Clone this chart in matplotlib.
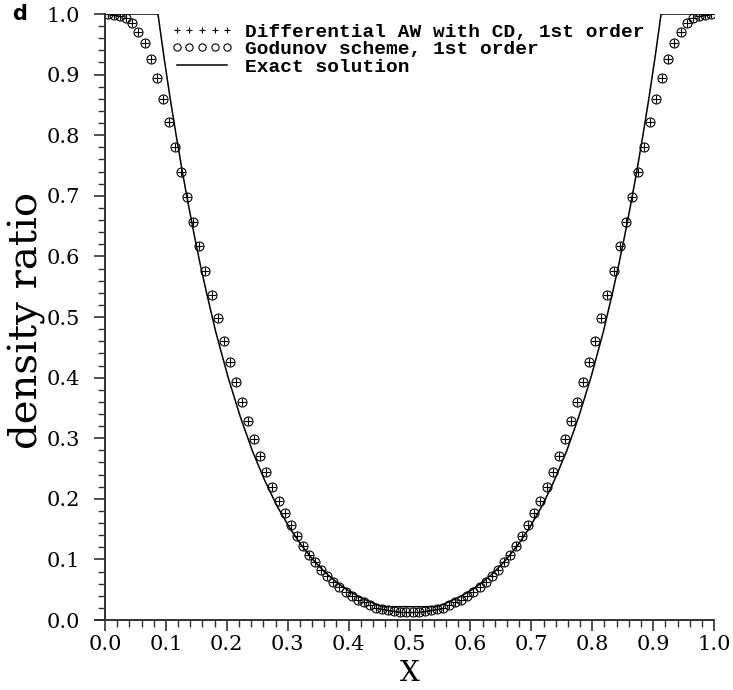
import numpy as np
import matplotlib
matplotlib.use("Agg")
import matplotlib.pyplot as plt
from matplotlib.ticker import MultipleLocator, FormatStrFormatter

# cell centres, 100 cells
x_cells = [0.005, 0.015, 0.025, 0.035, 0.045, 0.055, 0.065, 0.075, 0.085, 0.095,
           0.105, 0.115, 0.125, 0.135, 0.145, 0.155, 0.165, 0.175, 0.185, 0.195,
           0.205, 0.215, 0.225, 0.235, 0.245, 0.255, 0.265, 0.275, 0.285, 0.295,
           0.305, 0.315, 0.325, 0.335, 0.345, 0.355, 0.365, 0.375, 0.385, 0.395,
           0.405, 0.415, 0.425, 0.435, 0.445, 0.455, 0.465, 0.475, 0.485, 0.495,
           0.505, 0.515, 0.525, 0.535, 0.545, 0.555, 0.565, 0.575, 0.585, 0.595,
           0.605, 0.615, 0.625, 0.635, 0.645, 0.655, 0.665, 0.675, 0.685, 0.695,
           0.705, 0.715, 0.725, 0.735, 0.745, 0.755, 0.765, 0.775, 0.785, 0.795,
           0.805, 0.815, 0.825, 0.835, 0.845, 0.855, 0.865, 0.875, 0.885, 0.895,
           0.905, 0.915, 0.925, 0.935, 0.945, 0.955, 0.965, 0.975, 0.985, 0.995]

aw_cd = [1.000, 0.999, 0.997, 0.993, 0.985, 0.971, 0.952, 0.926, 0.895, 0.860,
         0.821, 0.781, 0.740, 0.698, 0.657, 0.617, 0.576, 0.536, 0.498, 0.461,
         0.426, 0.392, 0.359, 0.328, 0.298, 0.271, 0.245, 0.220, 0.197, 0.177,
         0.157, 0.139, 0.122, 0.107, 0.095, 0.083, 0.072, 0.063, 0.055, 0.047,
         0.040, 0.033, 0.029, 0.024, 0.020, 0.018, 0.0165, 0.015, 0.014, 0.013,
         0.013, 0.014, 0.015, 0.0165, 0.018, 0.020, 0.024, 0.029, 0.033, 0.040,
         0.047, 0.055, 0.063, 0.072, 0.083, 0.095, 0.107, 0.122, 0.139, 0.157,
         0.177, 0.197, 0.220, 0.245, 0.271, 0.298, 0.328, 0.359, 0.392, 0.426,
         0.461, 0.498, 0.536, 0.576, 0.617, 0.657, 0.698, 0.740, 0.781, 0.821,
         0.860, 0.895, 0.926, 0.952, 0.971, 0.985, 0.993, 0.997, 0.999, 1.000]

godunov = [1.000, 0.999, 0.997, 0.993, 0.985, 0.971, 0.952, 0.926, 0.895, 0.860,
           0.821, 0.781, 0.740, 0.698, 0.657, 0.617, 0.576, 0.536, 0.498, 0.461,
           0.426, 0.392, 0.359, 0.328, 0.298, 0.271, 0.245, 0.220, 0.197, 0.177,
           0.157, 0.139, 0.122, 0.107, 0.095, 0.083, 0.072, 0.063, 0.055, 0.047,
           0.040, 0.033, 0.029, 0.024, 0.020, 0.018, 0.0165, 0.015, 0.014, 0.013,
           0.013, 0.014, 0.015, 0.0165, 0.018, 0.020, 0.024, 0.029, 0.033, 0.040,
           0.047, 0.055, 0.063, 0.072, 0.083, 0.095, 0.107, 0.122, 0.139, 0.157,
           0.177, 0.197, 0.220, 0.245, 0.271, 0.298, 0.328, 0.359, 0.392, 0.426,
           0.461, 0.498, 0.536, 0.576, 0.617, 0.657, 0.698, 0.740, 0.781, 0.821,
           0.860, 0.895, 0.926, 0.952, 0.971, 0.985, 0.993, 0.997, 0.999, 1.000]

# exact solution
x_exact = [0.0, 0.087, 0.097, 0.107, 0.117, 0.127, 0.137, 0.147, 0.157, 0.167,
           0.182, 0.202, 0.222, 0.242, 0.262, 0.282, 0.302, 0.322, 0.342, 0.362,
           0.382, 0.402, 0.422, 0.442, 0.456,
           0.544, 0.558, 0.578, 0.598, 0.618, 0.638, 0.658, 0.678, 0.698, 0.718,
           0.738, 0.758, 0.778, 0.798, 0.818, 0.833, 0.843, 0.853, 0.863, 0.873,
           0.883, 0.893, 0.903, 0.913, 1.0]
rho_exact = [1.0, 1.0, 0.928, 0.861, 0.799, 0.740, 0.685, 0.633, 0.584, 0.539,
             0.475, 0.401, 0.336, 0.279, 0.231, 0.189, 0.154, 0.124, 0.099, 0.078,
             0.061, 0.047, 0.036, 0.027, 0.022,
             0.022, 0.027, 0.036, 0.047, 0.061, 0.078, 0.099, 0.124, 0.154, 0.189,
             0.231, 0.279, 0.336, 0.401, 0.475, 0.539, 0.584, 0.633, 0.685, 0.740,
             0.799, 0.861, 0.928, 1.0, 1.0]

fig = plt.figure(figsize=(7.33, 6.9), dpi=100)
ax = fig.add_axes([0.1432, 0.1014, 0.8310, 0.8783])

ax.plot(x_exact, rho_exact, color="black", lw=1.1, label="Exact solution")
ax.plot(x_cells, aw_cd, ls="none", marker="+", ms=6, mew=0.8, color="black",
        label="Differential AW with CD, 1st order")
ax.plot(x_cells, godunov, ls="none", marker="o", ms=6.5, mew=0.8, mfc="none",
        color="black", label="Godunov scheme, 1st order")

ax.set_xlim(0, 1.0)
ax.set_ylim(0, 1.0)
for s in ["top", "right"]:
    ax.spines[s].set_visible(False)
for s in ["left", "bottom"]:
    ax.spines[s].set_linewidth(1.4)
    ax.spines[s].set_color("#333333")
# little stub of the x axis left of the origin
ax.plot([-0.017, 0], [0, 0], transform=ax.transAxes, clip_on=False,
        color="#333333", lw=1.4)

ax.xaxis.set_major_locator(MultipleLocator(0.1))
ax.xaxis.set_minor_locator(MultipleLocator(0.02))
ax.yaxis.set_major_locator(MultipleLocator(0.1))
ax.yaxis.set_minor_locator(MultipleLocator(0.02))
ax.xaxis.set_major_formatter(FormatStrFormatter("%.1f"))
ax.yaxis.set_major_formatter(FormatStrFormatter("%.1f"))
ax.tick_params(which="major", direction="out", length=8, width=1.2, color="#333333")
ax.tick_params(which="minor", direction="out", length=5, width=1.0, color="#333333")
ax.tick_params(axis="y", which="major", pad=10)
ax.tick_params(axis="x", which="major", pad=3)
for lab in ax.get_xticklabels() + ax.get_yticklabels():
    lab.set_fontfamily("DejaVu Serif")
    lab.set_fontsize(15)

ax.set_ylabel("density ratio", fontfamily="DejaVu Serif", fontsize=29)
ax.yaxis.set_label_coords(-0.097, 0.495)
ax.set_xlabel("X", fontfamily="DejaVu Serif", fontsize=20)
ax.xaxis.set_label_coords(0.5, -0.066)

h, l = ax.get_legend_handles_labels()
order = [1, 2, 0]
leg = ax.legend([h[i] for i in order], [l[i] for i in order],
                loc="upper left", bbox_to_anchor=(171 / 733, 1 - 23 / 690),
                bbox_transform=fig.transFigure, frameon=False, numpoints=5,
                markerscale=0.8, handlelength=3.2, handletextpad=0.6,
                labelspacing=0.0, borderpad=0, borderaxespad=0,
                prop={"family": "Liberation Mono", "size": 14, "weight": "bold"})

fig.text(12 / 733, 1 - 14 / 690, "d", fontsize=15, fontweight="bold",
         fontfamily="DejaVu Sans", va="center", ha="left")

fig.savefig("out.png", dpi=100)
